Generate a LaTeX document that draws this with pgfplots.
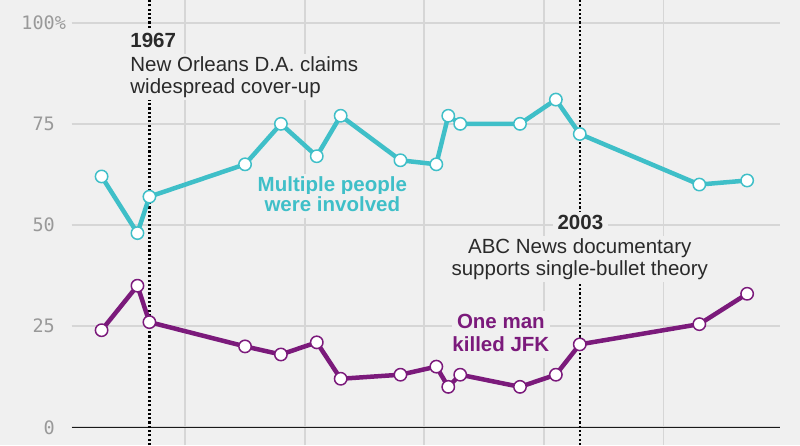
\documentclass[border=0pt]{standalone}
\usepackage{pgfplots}
\pgfplotsset{compat=1.18}
\usepackage{fontspec}
\setmainfont{Liberation Sans}
\setmonofont{DejaVu Sans Mono}
\definecolor{bg}{HTML}{F0F0F0}
\definecolor{cyanc}{HTML}{3FBFC8}
\definecolor{purp}{HTML}{7B1A7B}
\definecolor{gridc}{HTML}{D6D6D6}
\definecolor{txt}{HTML}{2A2A2A}
\definecolor{tickc}{HTML}{999999}
\tikzset{lab/.style={fill=bg, inner xsep=5pt, inner ysep=1.5pt, text height=16pt, text depth=5pt, font=\fontsize{20.5}{24}\selectfont, text=txt}}
\begin{document}
\begin{tikzpicture}
\fill[bg] (0pt,0pt) rectangle (800pt,445pt);
\begin{axis}[
  at={(71.7pt,0pt)}, anchor=south west,
  scale only axis, width=708.3pt, height=445pt,
  xmin=1960.5, xmax=2019.75, ymin=-4.37, ymax=105.61,
  axis line style={draw=none},
  xtick={1970,1980,1990,2000,2010}, xticklabels={},
  ytick={0,25,50,75,100},
  yticklabels={\texttt{0},\texttt{25},\texttt{50},\texttt{75},\texttt{100}\rlap{\texttt{\%}}},
  major tick length=0pt,
  xmajorgrids, ymajorgrids,
  grid style={gridc, line width=1.8pt},
  yticklabel style={font=\fontsize{18.5}{20}\selectfont, text=tickc, anchor=east, inner sep=0pt, xshift=-16.7pt},
  /pgf/number format/assume math mode=true,
  clip=false,
]
\draw[black!90, line width=1.4pt] (axis cs:1960.5,0) -- (axis cs:2019.75,0);
\draw[black, line width=2.4pt, dash pattern=on 2.1pt off 2.2pt] (axis cs:1967,-4.37) -- (axis cs:1967,105.61);
\draw[black, line width=2.4pt, dash pattern=on 2.1pt off 2.2pt] (axis cs:2003,-4.37) -- (axis cs:2003,105.61);

\node[lab, anchor=base west, inner xsep=2pt, font=\bfseries\fontsize{20.5}{24}\selectfont] at (axis cs:1965.23,93.82) {1967};
\node[lab, anchor=base west, inner xsep=2pt] at (axis cs:1965.23,88.06) {New Orleans D.A. claims};
\node[lab, anchor=base west, inner xsep=2pt] at (axis cs:1965.23,82.55) {widespread cover-up};

\node[lab, anchor=base, font=\bfseries\fontsize{20.5}{24}\selectfont] at (axis cs:2003.05,48.81) {2003};
\node[lab, anchor=base] at (axis cs:2003.0,43.0) {ABC News documentary};
\node[lab, anchor=base] at (axis cs:2003.0,37.40) {supports single-bullet theory};

\node[lab, anchor=base, text=cyanc, font=\bfseries\fontsize{20.5}{24}\selectfont] at (axis cs:1982.3,58.23) {Multiple people};
\node[lab, anchor=base, text=cyanc, font=\bfseries\fontsize{20.5}{24}\selectfont] at (axis cs:1982.3,53.29) {were involved};

\node[lab, anchor=base, text=purp, font=\bfseries\fontsize{20.5}{24}\selectfont] at (axis cs:1996.4,24.47) {One man};
\node[lab, anchor=base, text=purp, font=\bfseries\fontsize{20.5}{24}\selectfont] at (axis cs:1996.4,18.69) {killed JFK};

\addplot[cyanc, line width=4.5pt, line join=round, mark=*, mark size=6.2pt,
  mark options={fill=white, draw=cyanc, line width=1.5pt}] coordinates {
  (1963,62) (1966,48) (1967,57) (1975,65) (1978,75) (1981,67) (1983,77)
  (1988,66) (1991,65) (1992,77) (1993,75) (1998,75) (2001,81) (2003,72.5)
  (2013,60) (2017,61)
};
\addplot[purp, line width=4.5pt, line join=round, mark=*, mark size=6.2pt,
  mark options={fill=white, draw=purp, line width=1.5pt}] coordinates {
  (1963,24) (1966,35) (1967,26) (1975,20) (1978,18) (1981,21) (1983,12)
  (1988,13) (1991,15) (1992,10) (1993,13) (1998,10) (2001,13) (2003,20.5)
  (2013,25.5) (2017,33)
};
\end{axis}
\pgfresetboundingbox
\path[use as bounding box] (0pt,0pt) rectangle (800pt,445pt);
\end{tikzpicture}
\end{document}
